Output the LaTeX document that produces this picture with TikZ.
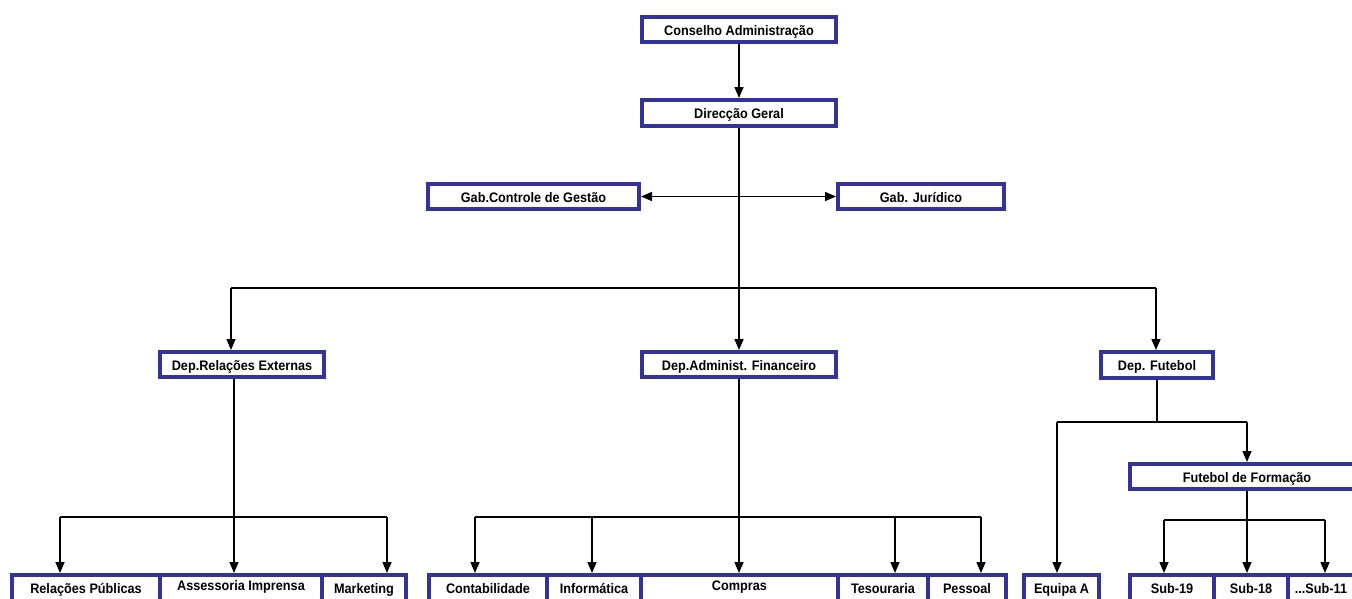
\documentclass[tikz,border=0pt]{standalone}
\usepackage{fontspec}
\setmainfont{Liberation Sans}[FakeStretch=0.92]
\usetikzlibrary{arrows.meta}
\definecolor{boxblue}{RGB}{51,51,153}
\tikzset{
  box/.style={draw=boxblue, line width=4pt, fill=white, inner sep=0pt,
    font=\bfseries\fontsize{13.8}{15}\selectfont, text=black,
    text height=11pt, text depth=0pt},
  lowbox/.style={box, text height=6.6pt},
  conn/.style={line width=1.5pt, draw=black},
  arr/.style={conn, -{Triangle[length=11pt,width=9pt]}},
  darr/.style={conn, {Triangle[length=11pt,width=9pt]}-{Triangle[length=11pt,width=9pt]}}
}
\begin{document}
\begin{tikzpicture}[x=1pt,y=-1pt]
\useasboundingbox (0,0) rectangle (1352,598);
\clip (0,0) rectangle (1352,598);
\fill[white] (0,0) rectangle (1352,598);
% top levels
\node[box, minimum width=194pt, minimum height=25pt] (cons) at (739,29.5) {Conselho Administração};
\node[box, minimum width=194pt, minimum height=26pt] (dir) at (739,113) {Direcção Geral};
\node[box, minimum width=211pt, minimum height=25pt] (gab1) at (533.5,196.5) {Gab.Controle de Gestão};
\node[box, minimum width=166pt, minimum height=25pt] (gab2) at (921,196.5) {Gab. Jurídico};
\node[box, minimum width=164pt, minimum height=25pt] (dre) at (242,364.5) {Dep.Relações Externas};
\node[box, minimum width=194pt, minimum height=25pt] (daf) at (739,364.5) {Dep.Administ. Financeiro};
\node[box, minimum width=112pt, minimum height=26pt] (dfu) at (1157,365) {Dep. Futebol};
\node[box, minimum width=234pt, minimum height=25pt] (ffo) at (1247,476.5) {Futebol de Formação};
% bottom row
\node[lowbox, minimum width=148pt, minimum height=30pt] (rp) at (86,590) {Relações Públicas};
\node[lowbox, minimum width=162pt, minimum height=30pt] (ai) at (241,590) {\raisebox{3pt}{Assessoria Imprensa}};
\node[lowbox, minimum width=84pt, minimum height=30pt] (mk) at (364,590) {Marketing};
\node[lowbox, minimum width=118pt, minimum height=30pt] (cont) at (488,590) {Contabilidade};
\node[lowbox, minimum width=94pt, minimum height=30pt] (inf) at (594,590) {Informática};
\node[lowbox, minimum width=197pt, minimum height=30pt] (comp) at (739.5,590) {\raisebox{3pt}{Compras}};
\node[lowbox, minimum width=90pt, minimum height=30pt] (tes) at (883,590) {Tesouraria};
\node[lowbox, minimum width=78pt, minimum height=30pt] (pes) at (967,590) {Pessoal};
\node[lowbox, minimum width=75pt, minimum height=30pt] (eqa) at (1061.5,590) {Equipa A};
\node[lowbox, minimum width=84pt, minimum height=30pt] (s19) at (1172,590) {Sub-19};
\node[lowbox, minimum width=74pt, minimum height=30pt] (s18) at (1251,590) {Sub-18};
\node[lowbox, minimum width=78pt, minimum height=30pt] (s11) at (1327,590) {\hspace*{-12pt}...Sub-11};
% junction coordinates
\coordinate (hl) at (231,288);
\coordinate (hr) at (1156,288);
\coordinate (ja) at (234,517);
\coordinate (jal) at (60,517);
\coordinate (jar) at (387,517);
\coordinate (jb1) at (475,517);
\coordinate (jb2) at (592,517);
\coordinate (jb4) at (895,517);
\coordinate (jb5) at (981,517);
\coordinate (jc) at (1157,422);
\coordinate (jcl) at (1057,422);
\coordinate (jcr) at (1247,422);
\coordinate (jd) at (1247,520);
\coordinate (jdl) at (1164,520);
\coordinate (jdr) at (1325,520);
% connectors
\draw[arr] (cons) -- (dir);
\draw[arr] (dir) -- (daf);
\draw[darr] (gab1) -- (gab2);
\draw[conn] (hl) -- (hr);
\draw[arr] (hl) -- (hl |- dre.north);
\draw[arr] (hr) -- (hr |- dfu.north);
% Relações Externas
\draw[arr] (ja |- dre.south) -- (ja |- ai.north);
\draw[conn] (jal) -- (jar);
\draw[arr] (jal) -- (jal |- rp.north);
\draw[arr] (jar) -- (jar |- mk.north);
% Administ. Financeiro
\draw[arr] (daf) -- (daf.south |- comp.north);
\draw[conn] (jb1) -- (jb5);
\draw[arr] (jb1) -- (jb1 |- cont.north);
\draw[arr] (jb2) -- (jb2 |- inf.north);
\draw[arr] (jb4) -- (jb4 |- tes.north);
\draw[arr] (jb5) -- (jb5 |- pes.north);
% Futebol
\draw[conn] (dfu) -- (jc);
\draw[conn] (jcl) -- (jcr);
\draw[arr] (jcl) -- (jcl |- eqa.north);
\draw[arr] (jcr) -- (jcr |- ffo.north);
\draw[arr] (jd |- ffo.south) -- (jd |- s18.north);
\draw[conn] (jdl) -- (jdr);
\draw[arr] (jdl) -- (jdl |- s19.north);
\draw[arr] (jdr) -- (jdr |- s11.north);
\end{tikzpicture}
\end{document}
